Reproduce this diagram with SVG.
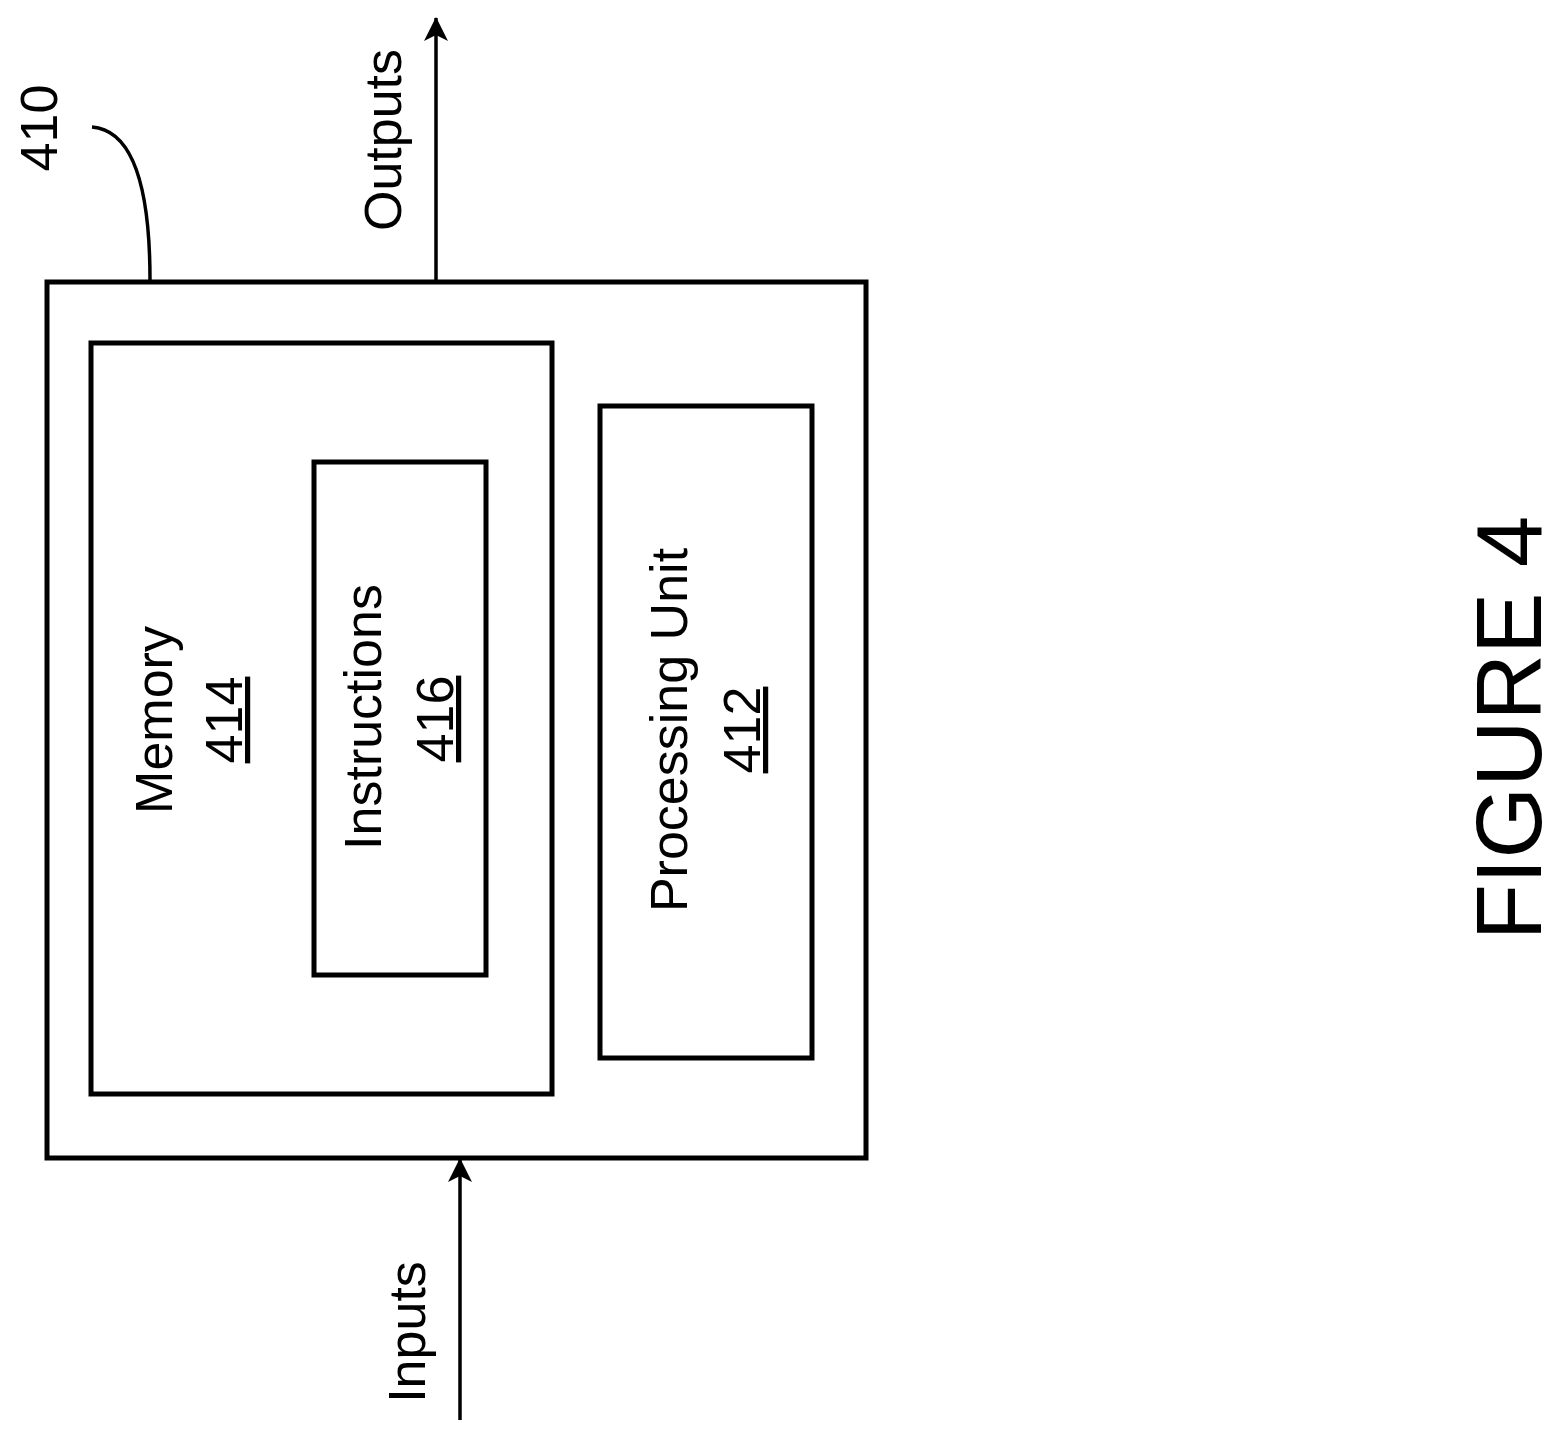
<svg xmlns="http://www.w3.org/2000/svg" width="1566" height="1443" viewBox="0 0 1566 1443">
<style>
.b{fill:none;stroke:#000;stroke-width:5}
.t{font-family:"Liberation Sans",Arial,sans-serif;font-size:52px;text-anchor:middle;fill:#000}
.l{fill:none;stroke:#000;stroke-width:3.5}
</style>
<defs><marker id="a" markerWidth="10" markerHeight="10" refX="9" refY="5" orient="auto" markerUnits="userSpaceOnUse" viewBox="0 0 10 10"><path d="M0,0 L10,5 L0,10 Z" fill="#000"/></marker>
<marker id="ah" viewBox="0 0 24 24" refX="23" refY="12" markerWidth="24" markerHeight="24" orient="auto" markerUnits="userSpaceOnUse"><path d="M0,0 L24,12 L0,24 L6,12 Z" fill="#000"/></marker></defs>
<rect width="1566" height="1443" fill="#fff"/>
<g id="device"><rect class="b" x="47" y="282" width="819" height="876"/>
<text class="t" transform="translate(57,128) rotate(-90)">410</text></g>
<g id="memory"><rect class="b" x="91" y="343" width="461" height="751"/>
<text class="t" transform="translate(172,720) rotate(-90)">Memory</text>
<text class="t" text-decoration="underline" transform="translate(242,720) rotate(-90)">414</text></g>
<g id="instructions"><rect class="b" x="314" y="462" width="172" height="513"/>
<text class="t" transform="translate(381,717) rotate(-90)">Instructions</text>
<text class="t" text-decoration="underline" transform="translate(453,719) rotate(-90)">416</text></g>
<g id="processing"><rect class="b" x="600" y="406" width="212" height="652"/>
<text class="t" transform="translate(687,730) rotate(-90)">Processing Unit</text>
<text class="t" text-decoration="underline" transform="translate(760,730) rotate(-90)">412</text></g>
<g id="labels">
<text class="t" transform="translate(401,140) rotate(-90)">Outputs</text>
<text class="t" transform="translate(425,1332) rotate(-90)">Inputs</text>
<text class="t" style="font-size:92px" transform="translate(1541,728) rotate(-90)">FIGURE 4</text></g>
<g id="connectors">
<line class="l" x1="436" y1="282" x2="436" y2="18" marker-end="url(#ah)"/>
<line class="l" x1="460" y1="1420" x2="460" y2="1159" marker-end="url(#ah)"/>
<path class="l" d="M92,127 C130,130 150,180 150,280"/>
</g>
</svg>
